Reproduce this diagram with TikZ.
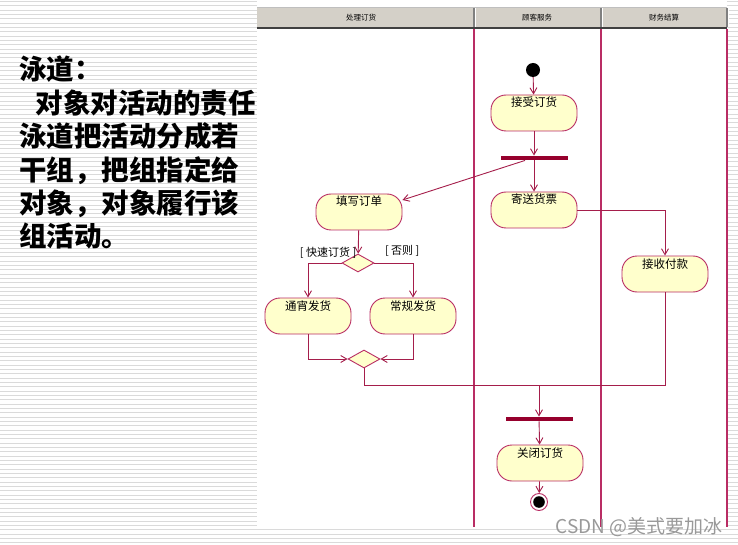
\documentclass[tikz,border=0pt]{standalone}
\usepackage{fontspec}
\newfontfamily\cjk{Noto Sans CJK SC}
\definecolor{swline}{RGB}{185,45,100}
\definecolor{swflow}{RGB}{165,30,75}
\definecolor{swfill}{RGB}{255,255,204}
\definecolor{swbar}{RGB}{150,0,45}
\definecolor{swhead}{RGB}{212,208,200}
\definecolor{swstripe}{RGB}{218,218,218}
\usetikzlibrary{arrows.meta,shapes.geometric}

\begin{document}
\begin{tikzpicture}[x=1pt,y=-1pt,
  stripe/.style={swstripe,line width=1pt},
  lane/.style={swline,line width=1.3pt},
  act/.style={draw=swline,fill=swfill,line width=0.9pt,rounded corners=15pt,minimum width=86pt,minimum height=36pt,inner sep=0pt,font=\cjk\fontsize{11.5}{13}\selectfont,text height=8pt,text depth=20pt},
  bar/.style={fill=swbar,minimum width=67pt,minimum height=4.5pt,inner sep=0pt},
  choice/.style={diamond,draw=swline,fill=swfill,line width=0.9pt,minimum width=32pt,minimum height=18pt,inner sep=0pt},
  flow/.style={swflow,line width=0.9pt,-{Straight Barb[length=6pt,width=7pt]}},
  link/.style={swflow,line width=0.9pt},
  guard/.style={text=black,font=\cjk\fontsize{11}{13}\selectfont,inner sep=1pt},
  lanehead/.style={font=\cjk\fontsize{7.5}{9}\selectfont,inner sep=0pt}]
\useasboundingbox (0,0) rectangle (738,545);
% background
\foreach \i in {0,...,125}
  \draw[stripe] (0,\i*4.33+1.5) -- (738,\i*4.33+1.5);
\fill[white] (257,0) rectangle (727,527);

% swimlane header
\fill[swhead] (257,8) rectangle (727,27);
\draw[black!25] (257,7.5) -- (727,7.5);
\draw[black!75,line width=2pt] (257,28) -- (727,28);
\foreach \x in {474,601,727} {
  \draw[black!50,line width=1.2pt] (\x,8) -- (\x,27);
  \draw[white,line width=0.8pt] (\x+1.4,8) -- (\x+1.4,27);
}
\node[lanehead] (h1) at (361,17.5) {处理订货};
\node[lanehead] (h2) at (537,17.5) {顾客服务};
\node[lanehead] (h3) at (664,17.5) {财务结算};
\foreach \x in {474,601,727}
  \draw[lane] (\x,29) -- (\x,527);

% intro text
\node[anchor=north west,align=left,inner sep=0pt,font=\cjk\bfseries\fontsize{27.5}{33.4}\selectfont] (intro) at (19,56)
  {泳道：\\\hspace*{0.6em}对象对活动的责任\\泳道把活动分成若\\干组，把组指定给\\对象，对象履行该\\组活动。};

% activities
\node[circle,fill=black,minimum size=14pt,inner sep=0pt] (start) at (533,70) {};
\node[act] (jsdh) at (534,113) {接受订货};
\node[bar] (bar1) at (534,158) {};
\node[act] (jshp) at (534,210) {寄送货票};
\node[act] (txdd) at (359,212) {填写订单};
\node[choice] (dec) at (358,263) {};
\node[act] (tsfh) at (308,316) {通宵发货};
\node[act] (cgfh) at (413,316) {常规发货};
\node[choice] (mer) at (364,359) {};
\node[act] (jsfk) at (665,274) {接收付款};
\coordinate (jn) at (539,385);
\node[bar] (bar2) at (539,419) {};
\node[act] (gbdh) at (540,463) {关闭订货};
\node[circle,draw=swline,fill=white,line width=0.9pt,minimum size=17pt,inner sep=0pt,
  path picture={\fill[black] (path picture bounding box.center) circle (5.8pt);}] (stop) at (539,502) {};

% flows
\draw[flow] (start) -- (jsdh);
\draw[flow] (jsdh) -- (bar1);
\draw[flow] (bar1) -- (jshp);
\draw[flow] ([xshift=-9pt]bar1.south) -- ([yshift=12pt]txdd.east);
\draw[flow] (txdd) -- (dec);
\draw[flow] (dec.west) -| node[guard,pos=0.2,above=3pt] {[ 快速订货 ]} (tsfh.north);
\draw[flow] (dec.east) -| node[guard,pos=0.36,above=5pt] {[ 否则 ]} (cgfh.north);
\draw[flow] (tsfh.south) |- (mer.west);
\draw[flow] (cgfh.south) |- (mer.east);
\draw[flow] (jshp.east) -| (jsfk.north);
\draw[link] (mer.south) |- (jn);
\draw[link] (jsfk.south) |- (jn);
\draw[flow] (jn) -- (bar2);
\draw[flow] (bar2) -- (gbdh);
\draw[flow] (gbdh) -- (stop);

\node[anchor=east,inner sep=0pt,text=black!40,font=\cjk\fontsize{19}{19}\selectfont] (mark) at (723,527) {CSDN @美式要加冰};
\end{tikzpicture}
\end{document}
